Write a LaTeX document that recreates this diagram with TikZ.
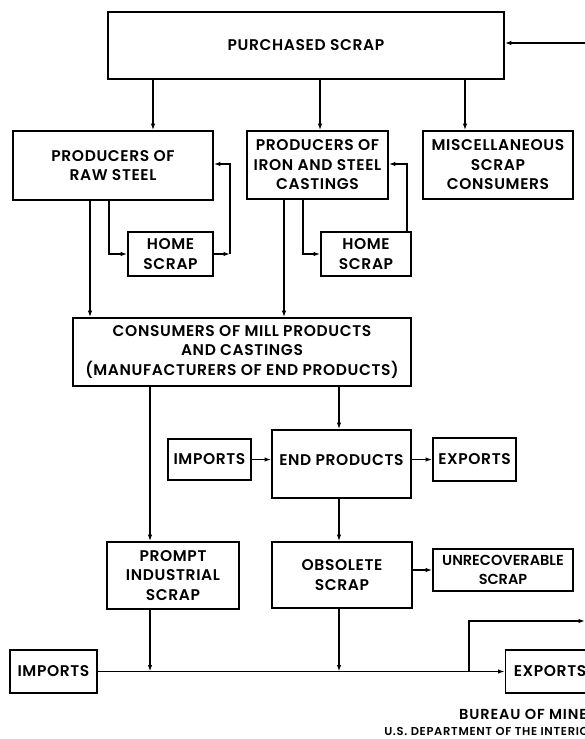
\documentclass[tikz,border=0pt]{standalone}
\usepackage{fontspec}
\setmainfont{Poppins}[UprightFont={* SemiBold}]
\usetikzlibrary{arrows.meta}
\begin{document}
\begin{tikzpicture}[x=1pt,y=-1pt,
  bx/.style={draw, line width=1.8pt, inner sep=0pt, align=center,
    font=\fontsize{15.5}{19.5}\selectfont\addfontfeature{LetterSpace=4}},
  arr/.style={line width=1.3pt, -{Latex[length=6.5pt,width=4.5pt]}},
  foot/.style={anchor=base east, inner sep=0pt}]
\useasboundingbox (0,0) rectangle (585,739);
\clip (0,0) rectangle (585,739);

% boxes
\node[bx, minimum width=396pt, minimum height=67pt] (ps) at (306,45.5) {PURCHASED SCRAP};
\node[bx, minimum width=200pt, minimum height=69pt] (rs) at (113,165.5) {PRODUCERS OF\\RAW STEEL};
\node[bx, minimum width=141pt, minimum height=68pt] (cast) at (317.5,165) {PRODUCERS OF\\IRON AND STEEL\\CASTINGS};
\node[bx, minimum width=150pt, minimum height=68pt] (misc) at (498,165) {MISCELLANEOUS\\SCRAP\\CONSUMERS};
\node[bx, minimum width=85pt, minimum height=44pt] (hs1) at (170.5,254) {HOME\\SCRAP};
\node[bx, minimum width=90pt, minimum height=44pt] (hs2) at (366,254) {HOME\\SCRAP};
\node[bx, minimum width=338pt, minimum height=68pt] (cons) at (242,352) {CONSUMERS OF MILL PRODUCTS\\AND CASTINGS\\(MANUFACTURERS OF END PRODUCTS)};
\node[bx, minimum width=83pt, minimum height=41pt] (imp1) at (209.5,459.5) {IMPORTS};
\node[bx, minimum width=139pt, minimum height=68pt] (ep) at (341.5,464) {};
\node[font=\fontsize{15.5}{19.5}\selectfont\addfontfeature{LetterSpace=4}, inner sep=0pt] (eptxt) at (341.5,460) {END PRODUCTS};
\node[bx, minimum width=83pt, minimum height=43pt] (exp1) at (474.5,459.5) {EXPORTS};
\node[bx, minimum width=132pt, minimum height=67pt] (pis) at (173,575.5) {PROMPT\\INDUSTRIAL\\SCRAP};
\node[bx, minimum width=140pt, minimum height=66pt] (obs) at (342,575) {OBSOLETE\\SCRAP};
\node[bx, minimum width=140pt, minimum height=42pt, font=\fontsize{14.5}{19}\selectfont] (unr) at (503,570) {UNRECOVERABLE\\SCRAP};
\node[bx, minimum width=87pt, minimum height=43pt] (imp2) at (53.5,671.5) {IMPORTS};
\node[bx, minimum width=89pt, minimum height=43pt] (exp2) at (550,671.5) {EXPORTS};

% x positions of vertical connectors
\coordinate (xa) at (153,0);
\coordinate (xb) at (320,0);
\coordinate (xc) at (465,0);
\coordinate (xd) at (90,0);
\coordinate (xe) at (109,0);
\coordinate (xf) at (407,0);
\coordinate (xk) at (284,0);
\coordinate (xl) at (303,0);
\coordinate (xg) at (150,0);
\coordinate (xh) at (339,0);
\coordinate (xj) at (469,0);
\coordinate (yr) at (0,164);
\coordinate (c1) at (230,254);
\coordinate (in1) at (600,43);
\coordinate (out1) at (585,621);

% purchased scrap to consumers
\draw[arr] (ps.south -| xa) -- (rs.north -| xa);
\draw[arr] (ps.south -| xb) -- (cast.north -| xb);
\draw[arr] (ps.south -| xc) -- (misc.north -| xc);
\draw[arr] (in1) -- (ps.east |- in1);

% raw steel loop
\draw[arr] (rs.south -| xe) |- (hs1.west);
\draw[arr] (hs1.east) -- (c1);
\draw[arr] (c1) |- (rs.east |- yr);
\draw[arr] (rs.south -| xd) -- (cons.north -| xd);

% castings loop
\draw[arr] (cast.south -| xl) |- (hs2.west);
\draw[arr] (hs2.north -| xf) |- (cast.east |- yr);
\draw[arr] (cast.south -| xk) -- (cons.north -| xk);

% consumers down
\draw[arr] (cons.south -| xg) -- (pis.north -| xg);
\draw[arr] (cons.south -| xh) -- (ep.north -| xh);
\draw[arr] (imp1.east) -- (imp1.east -| ep.west);
\draw[arr] (exp1.west -| ep.east) -- (exp1.west);
\draw[arr] (ep.south -| xh) -- (obs.north -| xh);
\draw[arr] (unr.west -| obs.east) -- (unr.west);

% bottom line
\draw[arr] (imp2.east) -- (exp2.west);
\draw[arr] (pis.south -| xg) -- (imp2.east -| xg);
\draw[arr] (obs.south -| xh) -- (imp2.east -| xh);
\draw[arr] (imp2.east -| xj) |- (out1);

% footer
\node[foot, font=\fontsize{14.5}{15}\selectfont\addfontfeature{LetterSpace=6}] (f1) at (597,719) {BUREAU OF MINES};
\node[foot, font=\fontsize{11.5}{15}\selectfont\addfontfeature{LetterSpace=6}] (f2) at (597,735) {U.S. DEPARTMENT OF THE INTERIOR};
\end{tikzpicture}
\end{document}
